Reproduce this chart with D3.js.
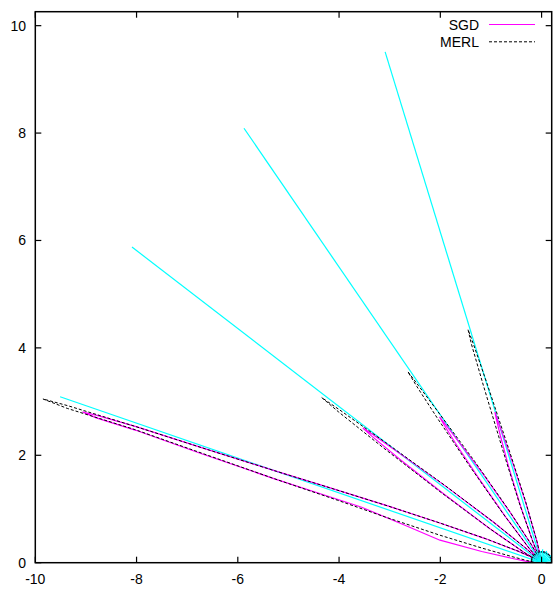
<!DOCTYPE html>
<html><head><meta charset="utf-8">
<script src="https://cdn.jsdelivr.net/npm/d3@7"></script>
<style>body{margin:0;background:#fff}svg{display:block}</style>
</head><body>
<svg id="c" width="556" height="590"></svg>
<script>
// ---- data (polar: [angle in degrees, radius]) ----
const xTicks = [-10, -8, -6, -4, -2, 0];
const yTicks = [0, 2, 4, 6, 8, 10];
const legendNames = ["SGD", "MERL"];

// mirror-direction reference lines (cyan)
const mirrorAngles = [162, 144, 126, 108];
const mirrorLengths = [10, 10, 10, 10];

// short cyan spokes near origin
const spokeAngles = [5,15,25,35,45,55,65,75,85,95,105,115,125,135,145,155,165,175];
const spokeLengths = [0.2,0.22,0.2,0.24,0.2,0.22,0.24,0.2,0.25,0.22,0.2,0.24,0.22,0.2,0.22,0.2,0.2,0.18];

// MERL lobes
const merlLobe0 = [[0,0.2],[15,0.2],[30,0.2],[45,0.2],[60,0.2],[75,0.2],[90,0.2],[105,0.2],[120,0.2],[135,0.2],[150,0.2],[165,0.2],[180,0.2]];
const merlLobe1 = [[150,0.15],[155,0.5],[158,1.2],[159.8,2.14],[160.8,3.2],[161.6,4.5],[162,5.5],[162.3,7],[162.45,8.4],[162.65,9.8],[162.8,10.31],[162.95,9.8],[162.85,8.4],[163.1,7],[163.5,5.5],[163.9,4.2],[164.6,3.2],[165.7,2.07],[167,1.2],[169,0.6],[172,0.3],[178,0.1]];
const merlLobe2 = [[135,0.05],[139,0.4],[141.5,1.2],[143,2.4],[144,3.8],[144.5,4.9],[144.7,5.32],[145,4.9],[145.6,3.8],[146.6,2.4],[148.2,1.2],[151,0.4],[155,0.05]];
const merlLobe3 = [[117,0.05],[121,0.4],[123.5,1.2],[125,2.3],[126,3.4],[126.4,4.1],[126.6,4.43],[126.9,4.1],[127.4,3.4],[128.3,2.3],[129.8,1.2],[132.2,0.4],[136,0.05]];
const merlLobe4 = [[99,0.05],[103,0.4],[105.5,1.2],[107,2.2],[107.9,3.5],[108.3,4.3],[108.5,4.58],[108.8,4.3],[109.2,3.5],[110.1,2.2],[111.6,1.2],[114,0.4],[118,0.05]];

// SGD lobes
const sgdLobe0 = [[0,0.2],[15,0.2],[30,0.2],[45,0.2],[60,0.2],[75,0.2],[90,0.2],[105,0.2],[120,0.2],[135,0.2],[150,0.2],[165,0.2],[180,0.2]];
const sgdLobe1 = [[150,0.15],[155,0.5],[158,1.2],[159.8,2.14],[160.8,3.2],[161.6,4.5],[162,5.5],[162.3,7],[162.45,8.4],[162.65,9.2],[162.8,9.49],[162.95,9.2],[162.9,8.4],[163.2,7],[163.5,5.5],[163.8,3.7],[165.5,2.8],[168.2,2.05],[170,1.2],[172,0.6],[175,0.3],[179,0.1]];
const sgdLobe2 = [[135,0.05],[139,0.4],[141.5,1.2],[143,2.3],[144,3.4],[144.4,4.1],[144.6,4.33],[144.9,4.1],[145.5,3.4],[146.5,2.3],[148.2,1.2],[151,0.4],[155,0.05]];
const sgdLobe3 = [[117,0.05],[121,0.4],[123.5,1.1],[125,2.0],[126,2.8],[126.4,3.2],[126.6,3.38],[126.9,3.2],[127.4,2.8],[128.3,2.0],[129.8,1.1],[132.2,0.4],[136,0.05]];
const sgdLobe4 = [[99,0.05],[103,0.4],[105.5,1.1],[107,1.9],[107.8,2.5],[108.1,2.8],[108.2,2.95],[108.5,2.8],[109,2.5],[110,1.9],[111.6,1.1],[114,0.4],[118,0.05]];

const merlLobes = [merlLobe1, merlLobe2, merlLobe3, merlLobe4];
const sgdLobes = [sgdLobe1, sgdLobe2, sgdLobe3, sgdLobe4];

// ---- drawing ----
const svg = d3.select("#c");
const L = 35.3, R = 551.7, T = 11.7, B = 562.7;
const x = d3.scaleLinear().domain([-10, 0.2]).range([L, R]);
const y = d3.scaleLinear().domain([0, 10.26]).range([B, T]);
const FONT = "'Liberation Sans', Arial, Helvetica, sans-serif";

svg.append("defs").append("clipPath").attr("id","clip")
  .append("rect").attr("x",L).attr("y",T).attr("width",R-L).attr("height",B-T);

const toXY = p => [p[1]*Math.cos(p[0]*Math.PI/180), p[1]*Math.sin(p[0]*Math.PI/180)];
const line = d3.line().x(d => x(d[0])).y(d => y(d[1]));
const arcLine = d3.line().x(d => x(d[0])).y(d => y(d[1])).curve(d3.curveCardinal);
const g = svg.append("g").attr("clip-path","url(#clip)");

// cyan mirror lines
mirrorAngles.forEach((a,i) => {
  g.append("path").attr("d", line([[0,0], toXY([a, mirrorLengths[i]])]))
    .attr("fill","none").attr("stroke","#00ffff").attr("stroke-width",1.2);
});
// SGD
sgdLobes.forEach(lobe => {
  g.append("path").attr("d", line([[0,0], ...lobe.map(toXY), [0,0]]))
    .attr("fill","none").attr("stroke","#ff00ff").attr("stroke-width",1.2);
});
// MERL
merlLobes.forEach(lobe => {
  g.append("path").attr("d", line([[0,0], ...lobe.map(toXY), [0,0]]))
    .attr("fill","none").attr("stroke","#000").attr("stroke-width",1).attr("stroke-dasharray","3,2");
});
// small lobes at origin (SGD and MERL coincide -> solid dark arc)
g.append("path").attr("d", arcLine(sgdLobe0.map(toXY)))
  .attr("fill","none").attr("stroke","#ff00ff").attr("stroke-width",1.5);
g.append("path").attr("d", arcLine(merlLobe0.map(toXY)))
  .attr("fill","none").attr("stroke","#000").attr("stroke-width",1.8);
spokeAngles.forEach((a,i) => {
  g.append("path").attr("d", line([[0,0], toXY([a, spokeLengths[i]])]))
    .attr("fill","none").attr("stroke","#00ffff").attr("stroke-width",1.2);
});

// frame
svg.append("rect").attr("x",L).attr("y",T).attr("width",R-L).attr("height",B-T)
  .attr("fill","none").attr("stroke","#000").attr("stroke-width",1.5);

const tl = 6;
xTicks.forEach(v => {
  svg.append("line").attr("x1",x(v)).attr("x2",x(v)).attr("y1",B).attr("y2",B-tl).attr("stroke","#000").attr("stroke-width",1.2);
  svg.append("line").attr("x1",x(v)).attr("x2",x(v)).attr("y1",T).attr("y2",T+tl).attr("stroke","#000").attr("stroke-width",1.2);
  svg.append("text").attr("x",x(v)).attr("y",584).attr("text-anchor","middle")
    .attr("font-family",FONT).attr("font-size",14).text(v);
});
yTicks.forEach(v => {
  svg.append("line").attr("x1",L).attr("x2",L+tl).attr("y1",y(v)).attr("y2",y(v)).attr("stroke","#000").attr("stroke-width",1.2);
  svg.append("line").attr("x1",R).attr("x2",R-tl).attr("y1",y(v)).attr("y2",y(v)).attr("stroke","#000").attr("stroke-width",1.2);
  svg.append("text").attr("x",26).attr("y",y(v)+5).attr("text-anchor","end")
    .attr("font-family",FONT).attr("font-size",14).text(v);
});

// legend
const legStyles = [{stroke:"#ff00ff", dash:null, w:1.2},{stroke:"#000", dash:"3,2", w:1}];
legendNames.forEach((n,i) => {
  const yy = 24.5 + i*17.3;
  svg.append("text").attr("x",479).attr("y",yy+5).attr("text-anchor","end")
    .attr("font-family",FONT).attr("font-size",14).text(n);
  svg.append("line").attr("x1",489).attr("x2",535).attr("y1",yy).attr("y2",yy)
    .attr("stroke",legStyles[i].stroke).attr("stroke-width",legStyles[i].w)
    .attr("stroke-dasharray",legStyles[i].dash);
});
</script>
</body></html>
